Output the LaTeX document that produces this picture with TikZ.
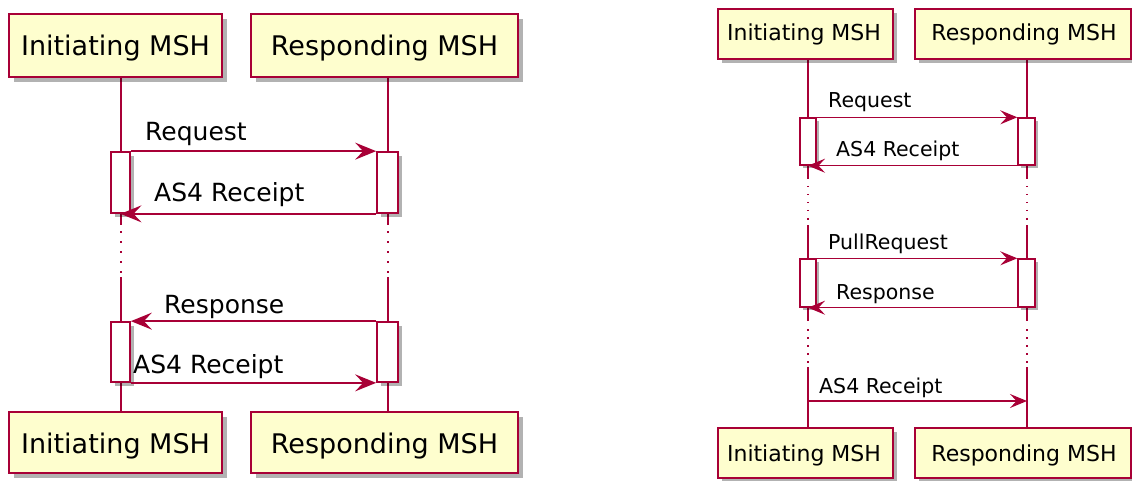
\documentclass[tikz,border=0pt]{standalone}
\usepackage{fontspec}
\setmainfont{DejaVu Sans}
\usetikzlibrary{arrows.meta,shadows}
\definecolor{pborder}{HTML}{A80036}
\definecolor{pfill}{HTML}{FEFECE}
\tikzset{
  part/.style={draw=pborder, fill=pfill, rectangle, inner sep=0pt},
  partL/.style={part, line width=2.4pt, drop shadow={shadow xshift=5pt, shadow yshift=-5pt, opacity=0.3, fill=black}},
  partR/.style={part, line width=2pt, drop shadow={shadow xshift=4pt, shadow yshift=-4pt, opacity=0.3, fill=black}},
  actbox/.style={draw=pborder, fill=white, rectangle, inner sep=0pt},
  actL/.style={actbox, line width=1.7pt, drop shadow={shadow xshift=4pt, shadow yshift=-4pt, opacity=0.3, fill=black}},
  actR/.style={actbox, line width=1.4pt, drop shadow={shadow xshift=3pt, shadow yshift=-3pt, opacity=0.3, fill=black}},
  lifeL/.style={draw=pborder, line width=2pt},
  lifeR/.style={draw=pborder, line width=1.5pt},
  dotsL/.style={draw=pborder, line width=2pt, dash pattern=on 2pt off 8pt},
  dotsR/.style={draw=pborder, line width=1.5pt, dash pattern=on 1.5pt off 6.5pt},
  msgL/.style={draw=pborder, line width=1.8pt, -{Stealth[length=21pt,width=17pt,inset=8pt]}},
  msgR/.style={draw=pborder, line width=1.4pt, -{Stealth[length=17pt,width=14pt,inset=6.5pt]}},
  ptextL/.style={anchor=base, inner sep=0pt, font=\fontsize{27}{30}\selectfont},
  ptextR/.style={anchor=base, inner sep=0pt, font=\fontsize{22}{25}\selectfont},
  mtextL/.style={anchor=base west, inner sep=0pt, font=\fontsize{25}{28}\selectfont},
  mtextR/.style={anchor=base west, inner sep=0pt, font=\fontsize{20.5}{23}\selectfont},
}
\begin{document}
\begin{tikzpicture}[x=1pt,y=-1pt]
\useasboundingbox (0,0) rectangle (1132,481);

% ================= LEFT DIAGRAM =================
\coordinate (a0) at (120.5,77);  \coordinate (a1) at (120.5,225);
\coordinate (a2) at (120.5,231); \coordinate (a3) at (120.5,275);
\coordinate (a4) at (120.5,277); \coordinate (a5) at (120.5,412);
\coordinate (b0) at (387.5,77);  \coordinate (b1) at (387.5,225);
\coordinate (b2) at (387.5,231); \coordinate (b3) at (387.5,275);
\coordinate (b4) at (387.5,277); \coordinate (b5) at (387.5,412);
\draw[lifeL] (a0) -- (a1); \draw[dotsL] (a2) -- (a3); \draw[lifeL] (a4) -- (a5);
\draw[lifeL] (b0) -- (b1); \draw[dotsL] (b2) -- (b3); \draw[lifeL] (b4) -- (b5);

\node[partL, minimum width=213pt, minimum height=63pt] (aTop) at (115.5,45.5) {};
\node[partL, minimum width=267pt, minimum height=63pt] (bTop) at (384.5,45.5) {};
\node[partL, minimum width=213pt, minimum height=61pt] (aBot) at (115.5,442.5) {};
\node[partL, minimum width=267pt, minimum height=61pt] (bBot) at (384.5,442.5) {};
\node[ptextL] (aTopT) at (115.5,56) {Initiating MSH};
\node[ptextL] (bTopT) at (384.5,56) {Responding MSH};
\node[ptextL] (aBotT) at (115.5,453) {Initiating MSH};
\node[ptextL] (bBotT) at (384.5,453) {Responding MSH};

\node[actL, minimum width=19pt, minimum height=61pt] (aAct1) at (120.5,182.5) {};
\node[actL, minimum width=21pt, minimum height=61pt] (bAct1) at (387.5,182.5) {};
\node[actL, minimum width=19pt, minimum height=60pt] (aAct2) at (120.5,352) {};
\node[actL, minimum width=21pt, minimum height=60pt] (bAct2) at (387.5,352) {};

\draw[msgL] (aAct1.north east) -- (bAct1.north west);
\node[mtextL] (m1) at (145,141) {Request};
\draw[msgL] (bAct1.south west) -- (aAct1.south);
\node[mtextL] (m2) at (154,202) {AS4 Receipt};
\draw[msgL] (bAct2.north west) -- (aAct2.north east);
\node[mtextL] (m3) at (164,313) {Response};
\draw[msgL] (aAct2.south east) -- (bAct2.south west);
\node[mtextL] (m4) at (133,373) {AS4 Receipt};

% ================= RIGHT DIAGRAM =================
\coordinate (c0) at (808,59);  \coordinate (c1) at (808,179);
\coordinate (c2) at (808,186); \coordinate (c3) at (808,222);
\coordinate (c4) at (808,225); \coordinate (c5) at (808,321);
\coordinate (c6) at (808,329); \coordinate (c7) at (808,364);
\coordinate (c8) at (808,367); \coordinate (c9) at (808,428);
\coordinate (d0) at (1027,59);  \coordinate (d1) at (1027,179);
\coordinate (d2) at (1027,186); \coordinate (d3) at (1027,222);
\coordinate (d4) at (1027,225); \coordinate (d5) at (1027,321);
\coordinate (d6) at (1027,329); \coordinate (d7) at (1027,364);
\coordinate (d8) at (1027,367); \coordinate (d9) at (1027,428);
\draw[lifeR] (c0) -- (c1); \draw[dotsR] (c2) -- (c3); \draw[lifeR] (c4) -- (c5);
\draw[dotsR] (c6) -- (c7); \draw[lifeR] (c8) -- (c9);
\draw[lifeR] (d0) -- (d1); \draw[dotsR] (d2) -- (d3); \draw[lifeR] (d4) -- (d5);
\draw[dotsR] (d6) -- (d7); \draw[lifeR] (d8) -- (d9);

\node[partR, minimum width=175pt, minimum height=50pt] (cTop) at (805.5,34) {};
\node[partR, minimum width=216pt, minimum height=50pt] (dTop) at (1023,34) {};
\node[partR, minimum width=175pt, minimum height=50pt] (cBot) at (805.5,453) {};
\node[partR, minimum width=216pt, minimum height=50pt] (dBot) at (1023,453) {};
\node[ptextR] (cTopT) at (804,41) {Initiating MSH};
\node[ptextR] (dTopT) at (1024,41) {Responding MSH};
\node[ptextR] (cBotT) at (804,461) {Initiating MSH};
\node[ptextR] (dBotT) at (1024,461) {Responding MSH};

\node[actR, minimum width=16pt, minimum height=47pt] (cAct1) at (808,141.5) {};
\node[actR, minimum width=17pt, minimum height=47pt] (dAct1) at (1026.5,141.5) {};
\node[actR, minimum width=16pt, minimum height=48pt] (cAct2) at (808,283) {};
\node[actR, minimum width=17pt, minimum height=48pt] (dAct2) at (1026.5,283) {};

\draw[msgR] (cAct1.north east) -- (dAct1.north west);
\node[mtextR] (r1) at (828,108) {Request};
\draw[msgR] (dAct1.south west) -- (cAct1.south);
\node[mtextR] (r2) at (836,157) {AS4 Receipt};
\draw[msgR] (cAct2.north east) -- (dAct2.north west);
\node[mtextR] (r3) at (828,249) {PullRequest};
\draw[msgR] (dAct2.south west) -- (cAct2.south);
\node[mtextR] (r4) at (836,299) {Response};
\coordinate (c10) at (808,401);
\coordinate (d10) at (1027,401);
\draw[msgR] (c10) -- (d10);
\node[mtextR] (r5) at (819,393) {AS4 Receipt};
\end{tikzpicture}
\end{document}
